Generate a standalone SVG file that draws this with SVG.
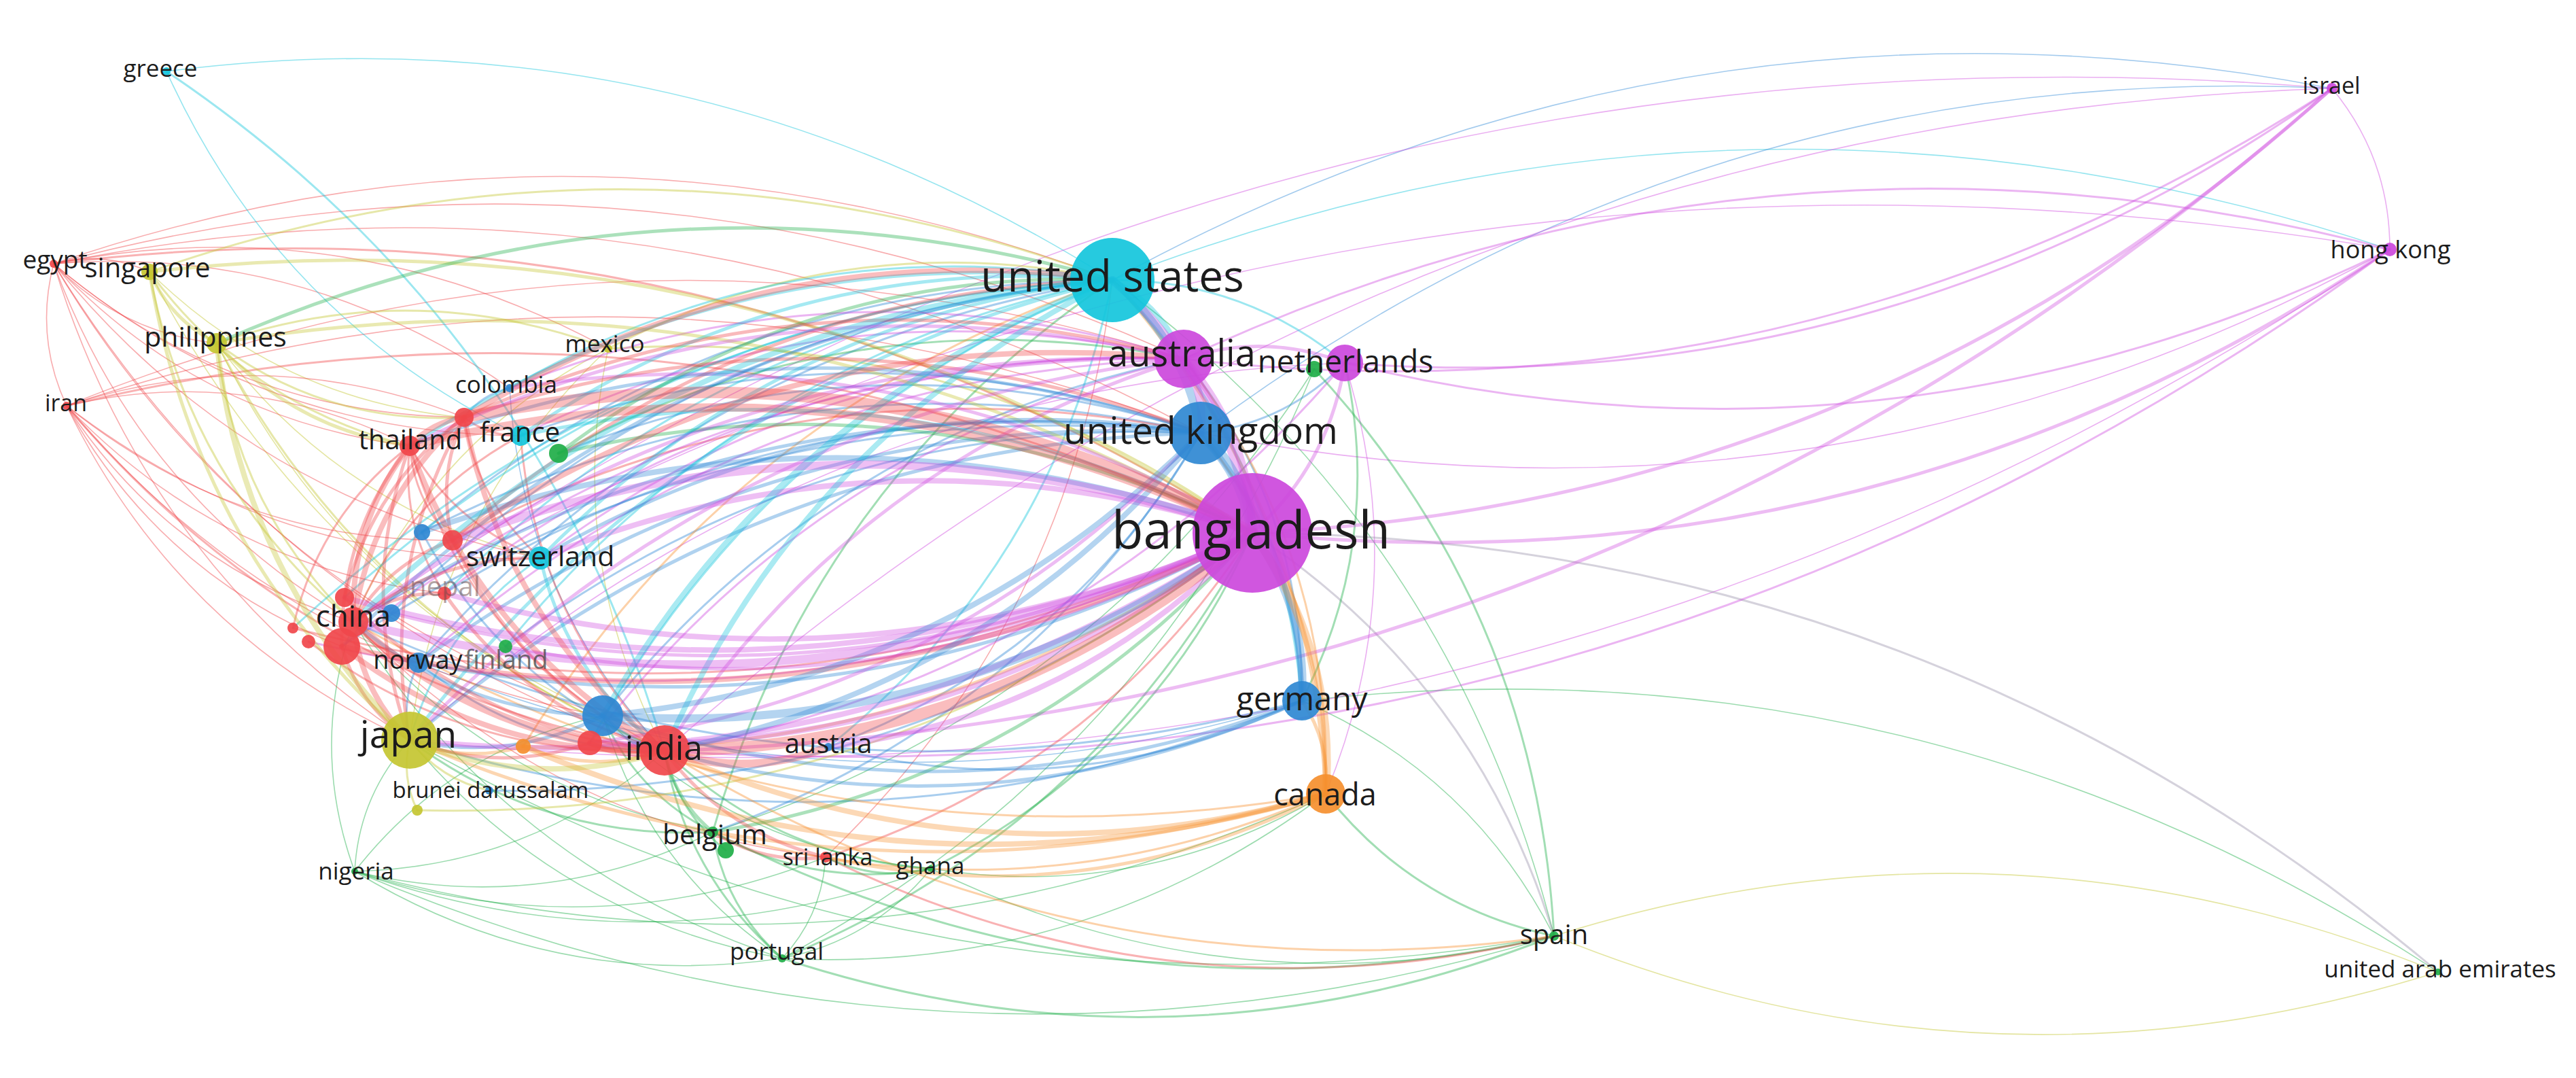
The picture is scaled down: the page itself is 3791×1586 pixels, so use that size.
<svg xmlns="http://www.w3.org/2000/svg" width="3791" height="1586" viewBox="0 0 3791 1586">
<style>
.e path{fill:none;vector-effect:non-scaling-stroke;stroke-linecap:round}
.r{stroke:#f0474b}.m{stroke:#d04ee0}.b{stroke:#3089d6}.c{stroke:#13c6dc}.g{stroke:#22b04c}.y{stroke:#c4c531}.o{stroke:#f79232}.p{stroke:#9a94ac}
.w1{stroke-width:1.6;stroke-opacity:.45}.w2{stroke-width:3;stroke-opacity:.42}.w3{stroke-width:5;stroke-opacity:.38}.w4{stroke-width:8;stroke-opacity:.36}.w5{stroke-width:12;stroke-opacity:.36}.w6{stroke-width:17;stroke-opacity:.36}
.n circle{fill-opacity:.92}
.fr{fill:#f0474b}.fm{fill:#cc48dc}.fb{fill:#2f88d2}.fc{fill:#13c6dc}.fg{fill:#1fae48}.fy{fill:#c4c531}.fo{fill:#f58f2e}
.n text{font-family:"Open Sans","Liberation Sans",sans-serif;fill:#1c1c1c;text-anchor:middle}
</style>
<rect width="3791" height="1586" fill="#ffffff"/>
<g id="connectors" class="e">
<path class="c w1" transform="matrix(-1392,-307,307,-1392,1637,412)" d="M0 0Q.5 .18 1 0"/>
<path class="r w1" transform="matrix(-1558,-24,24,-1558,1637,412)" d="M0 0Q.5 .18 1 0"/>
<path class="b w1" transform="matrix(-1795,282,-282,-1795,3432,130)" d="M0 0Q.5 .18 1 0"/>
<path class="c w1" transform="matrix(-1880,45,-45,-1880,3517,367)" d="M0 0Q.5 .18 1 0"/>
<path class="g w1" transform="matrix(-650,-965,965,-650,2287,1377)" d="M0 0Q.5 .18 1 0"/>
<path class="r w1" transform="matrix(422,-849,849,422,1215,1261)" d="M0 0Q.5 .18 1 0"/>
<path class="m w1" transform="matrix(1750,-270,270,1750,1767,637)" d="M0 0Q.5 .18 1 0"/>
<path class="b w1" transform="matrix(-1665,507,-507,-1665,3432,130)" d="M0 0Q.5 .18 1 0"/>
<path class="r w1" transform="matrix(-1688,-249,249,-1688,1767,637)" d="M0 0Q.5 .18 1 0"/>
<path class="r w1" transform="matrix(-1669,-40,40,-1669,1767,637)" d="M0 0Q.5 .18 1 0"/>
<path class="r w1" transform="matrix(-1663,-140,140,-1663,1742,528)" d="M0 0Q.5 .18 1 0"/>
<path class="r w1" transform="matrix(-1644,69,-69,-1644,1742,528)" d="M0 0Q.5 .18 1 0"/>
<path class="m w1" transform="matrix(28,-634,634,28,1951,1168)" d="M0 0Q.5 .18 1 0"/>
<path class="m w1" transform="matrix(-1376,555,-555,-1376,1979,534)" d="M0 0Q.5 .18 1 0"/>
<path class="g w1" transform="matrix(885,-681,681,885,1049,1224)" d="M0 0Q.5 .18 1 0"/>
<path class="g w1" transform="matrix(783,-867,867,783,1151,1410)" d="M0 0Q.5 .18 1 0"/>
<path class="g w1" transform="matrix(-371,-346,346,-371,2287,1377)" d="M0 0Q.5 .18 1 0"/>
<path class="b w1" transform="matrix(1300,56,-56,1300,616,975)" d="M0 0Q.5 .18 1 0"/>
<path class="g w1" transform="matrix(581,-110,110,581,1370,1278)" d="M0 0Q.5 .18 1 0"/>
<path class="g w1" transform="matrix(1429,-114,114,1429,522,1282)" d="M0 0Q.5 .18 1 0"/>
<path class="g w1" transform="matrix(800,-242,242,800,1151,1410)" d="M0 0Q.5 .18 1 0"/>
<path class="g w1" transform="matrix(1765,95,-95,1765,522,1282)" d="M0 0Q.5 .18 1 0"/>
<path class="g w1" transform="matrix(917,99,-99,917,1370,1278)" d="M0 0Q.5 .18 1 0"/>
<path class="g w1" transform="matrix(1684,288,-288,1684,603,1089)" d="M0 0Q.5 .18 1 0"/>
<path class="y w1" transform="matrix(1301,53,-53,1301,2287,1377)" d="M0 0Q.5 .18 1 0"/>
<path class="y w1" transform="matrix(-1301,-53,53,-1301,3588,1430)" d="M0 0Q.5 .18 1 0"/>
<path class="g w1" transform="matrix(-1672,-399,399,-1672,3588,1430)" d="M0 0Q.5 .18 1 0"/>
<path class="y w1" transform="matrix(83,592,-592,83,895,513)" d="M0 0Q.5 .18 1 0"/>
<path class="b w1" transform="matrix(228,534,-534,228,750,571)" d="M0 0Q.5 .18 1 0"/>
<path class="y w1" transform="matrix(758,705,-705,758,220,400)" d="M0 0Q.5 .18 1 0"/>
<path class="r w1" transform="matrix(899,717,-717,899,79,388)" d="M0 0Q.5 .18 1 0"/>
<path class="m w1" transform="matrix(-2912,785,-785,-2912,3432,130)" d="M0 0Q.5 .18 1 0"/>
<path class="m w1" transform="matrix(-2454,975,-975,-2454,3432,130)" d="M0 0Q.5 .18 1 0"/>
<path class="m w1" transform="matrix(-2997,548,-548,-2997,3517,367)" d="M0 0Q.5 .18 1 0"/>
<path class="m w1" transform="matrix(-85,-237,237,-85,3517,367)" d="M0 0Q.5 .18 1 0"/>
<path class="m w1" transform="matrix(2914,-722,722,2914,603,1089)" d="M0 0Q.5 .18 1 0"/>
<path class="g w1" transform="matrix(-81,193,-193,-81,603,1089)" d="M0 0Q.5 .18 1 0"/>
<path class="g w1" transform="matrix(548,321,-321,548,603,1089)" d="M0 0Q.5 .18 1 0"/>
<path class="r w1" transform="matrix(524,701,-701,524,79,388)" d="M0 0Q.5 .18 1 0"/>
<path class="r w1" transform="matrix(505,492,-492,505,98,597)" d="M0 0Q.5 .18 1 0"/>
<path class="y w1" transform="matrix(-292,576,-576,-292,895,513)" d="M0 0Q.5 .18 1 0"/>
<path class="y w1" transform="matrix(568,548,-548,568,319,505)" d="M0 0Q.5 .18 1 0"/>
<path class="y w1" transform="matrix(476,316,-316,476,319,505)" d="M0 0Q.5 .18 1 0"/>
<path class="r w1" transform="matrix(-141,-12,12,-141,220,400)" d="M0 0Q.5 .18 1 0"/>
<path class="y w1" transform="matrix(463,214,-214,463,220,400)" d="M0 0Q.5 .18 1 0"/>
<path class="r w1" transform="matrix(441,527,-527,441,79,388)" d="M0 0Q.5 .18 1 0"/>
<path class="r w1" transform="matrix(524,268,-268,524,79,388)" d="M0 0Q.5 .18 1 0"/>
<path class="r w1" transform="matrix(19,209,-209,19,79,388)" d="M0 0Q.5 .18 1 0"/>
<path class="r w1" transform="matrix(240,117,-117,240,79,388)" d="M0 0Q.5 .18 1 0"/>
<path class="r w1" transform="matrix(604,226,-226,604,79,388)" d="M0 0Q.5 .18 1 0"/>
<path class="r w1" transform="matrix(716,433,-433,716,79,388)" d="M0 0Q.5 .18 1 0"/>
<path class="r w1" transform="matrix(-816,-125,125,-816,895,513)" d="M0 0Q.5 .18 1 0"/>
<path class="r w1" transform="matrix(808,665,-665,808,79,388)" d="M0 0Q.5 .18 1 0"/>
<path class="r w1" transform="matrix(687,253,-253,687,79,388)" d="M0 0Q.5 .18 1 0"/>
<path class="r w1" transform="matrix(-671,-183,183,-671,750,571)" d="M0 0Q.5 .18 1 0"/>
<path class="r w1" transform="matrix(422,318,-318,422,98,597)" d="M0 0Q.5 .18 1 0"/>
<path class="r w1" transform="matrix(-505,-59,59,-505,603,656)" d="M0 0Q.5 .18 1 0"/>
<path class="r w1" transform="matrix(-585,-17,17,-585,683,614)" d="M0 0Q.5 .18 1 0"/>
<path class="r w1" transform="matrix(405,354,-354,405,98,597)" d="M0 0Q.5 .18 1 0"/>
<path class="r w1" transform="matrix(556,276,-276,556,98,597)" d="M0 0Q.5 .18 1 0"/>
<path class="r w1" transform="matrix(789,456,-456,789,98,597)" d="M0 0Q.5 .18 1 0"/>
<path class="r w1" transform="matrix(697,224,-224,697,98,597)" d="M0 0Q.5 .18 1 0"/>
<path class="r w1" transform="matrix(568,198,-198,568,98,597)" d="M0 0Q.5 .18 1 0"/>
<path class="c w1" transform="matrix(521,536,-536,521,245,105)" d="M0 0Q.5 .18 1 0"/>
<path class="y w1" transform="matrix(-375,402,-402,-375,895,513)" d="M0 0Q.5 .18 1 0"/>
<path class="g w1" transform="matrix(456,-177,177,456,522,1282)" d="M0 0Q.5 .18 1 0"/>
<path class="g w1" transform="matrix(527,-58,58,527,522,1282)" d="M0 0Q.5 .18 1 0"/>
<path class="g w1" transform="matrix(629,128,-128,629,522,1282)" d="M0 0Q.5 .18 1 0"/>
<path class="g w1" transform="matrix(2,367,-367,2,520,915)" d="M0 0Q.5 .18 1 0"/>
<path class="g w1" transform="matrix(693,-21,21,693,522,1282)" d="M0 0Q.5 .18 1 0"/>
<path class="g w1" transform="matrix(848,-4,4,848,522,1282)" d="M0 0Q.5 .18 1 0"/>
<path class="g w1" transform="matrix(-365,229,-229,-365,887,1053)" d="M0 0Q.5 .18 1 0"/>
<path class="g w1" transform="matrix(64,-149,149,64,1151,1410)" d="M0 0Q.5 .18 1 0"/>
<path class="g w1" transform="matrix(219,-132,132,219,1151,1410)" d="M0 0Q.5 .18 1 0"/>
<path class="g w1" transform="matrix(631,495,-495,631,520,915)" d="M0 0Q.5 .18 1 0"/>
<path class="g w1" transform="matrix(264,357,-357,264,887,1053)" d="M0 0Q.5 .18 1 0"/>
<path class="g w1" transform="matrix(529,309,-309,529,520,915)" d="M0 0Q.5 .18 1 0"/>
<path class="g w1" transform="matrix(483,225,-225,483,887,1053)" d="M0 0Q.5 .18 1 0"/>
<path class="r w1" transform="matrix(695,346,-346,695,520,915)" d="M0 0Q.5 .18 1 0"/>
<path class="p w2" transform="matrix(-444,-593,593,-444,2287,1377)" d="M0 0Q.5 .18 1 0"/>
<path class="p w2" transform="matrix(-1745,-646,646,-1745,3588,1430)" d="M0 0Q.5 .18 1 0"/>
<path class="r w2" transform="matrix(628,-477,477,628,1215,1261)" d="M0 0Q.5 .18 1 0"/>
<path class="y w2" transform="matrix(-948,-271,271,-948,1843,784)" d="M0 0Q.5 .18 1 0"/>
<path class="r w2" transform="matrix(-1764,-396,396,-1764,1843,784)" d="M0 0Q.5 .18 1 0"/>
<path class="r w2" transform="matrix(-1745,-187,187,-1745,1843,784)" d="M0 0Q.5 .18 1 0"/>
<path class="g w2" transform="matrix(473,-494,494,473,1370,1278)" d="M0 0Q.5 .18 1 0"/>
<path class="g w2" transform="matrix(692,-626,626,692,1151,1410)" d="M0 0Q.5 .18 1 0"/>
<path class="b w2" transform="matrix(1123,-379,379,1123,720,1163)" d="M0 0Q.5 .18 1 0"/>
<path class="c w2" transform="matrix(-342,-122,122,-342,1979,534)" d="M0 0Q.5 .18 1 0"/>
<path class="b w2" transform="matrix(-1021,563,-563,-1021,1637,412)" d="M0 0Q.5 .18 1 0"/>
<path class="y w2" transform="matrix(-1417,-12,12,-1417,1637,412)" d="M0 0Q.5 .18 1 0"/>
<path class="y w2" transform="matrix(-742,101,-101,-742,1637,412)" d="M0 0Q.5 .18 1 0"/>
<path class="c w2" transform="matrix(-887,159,-159,-887,1637,412)" d="M0 0Q.5 .18 1 0"/>
<path class="b w2" transform="matrix(-1016,371,-371,-1016,1637,412)" d="M0 0Q.5 .18 1 0"/>
<path class="g w2" transform="matrix(-588,812,-812,-588,1637,412)" d="M0 0Q.5 .18 1 0"/>
<path class="c w2" transform="matrix(418,-687,687,418,1219,1099)" d="M0 0Q.5 .18 1 0"/>
<path class="b w2" transform="matrix(212,-103,103,212,1767,637)" d="M0 0Q.5 .18 1 0"/>
<path class="o w2" transform="matrix(-184,-531,531,-184,1951,1168)" d="M0 0Q.5 .18 1 0"/>
<path class="b w2" transform="matrix(-1001,4,-4,-1001,1767,637)" d="M0 0Q.5 .18 1 0"/>
<path class="b w2" transform="matrix(718,-587,587,718,1049,1224)" d="M0 0Q.5 .18 1 0"/>
<path class="b w2" transform="matrix(-1146,146,-146,-1146,1767,637)" d="M0 0Q.5 .18 1 0"/>
<path class="b w2" transform="matrix(-174,-503,503,-174,1916,1031)" d="M0 0Q.5 .18 1 0"/>
<path class="o w2" transform="matrix(-209,-640,640,-209,1951,1168)" d="M0 0Q.5 .18 1 0"/>
<path class="m w2" transform="matrix(-1775,161,-161,-1775,3517,367)" d="M0 0Q.5 .18 1 0"/>
<path class="m w2" transform="matrix(1690,-398,398,1690,1742,528)" d="M0 0Q.5 .18 1 0"/>
<path class="m w2" transform="matrix(-947,293,-293,-947,1742,528)" d="M0 0Q.5 .18 1 0"/>
<path class="b w2" transform="matrix(-855,525,-525,-855,1742,528)" d="M0 0Q.5 .18 1 0"/>
<path class="m w2" transform="matrix(1538,-167,167,1538,1979,534)" d="M0 0Q.5 .18 1 0"/>
<path class="m w2" transform="matrix(1453,-404,404,1453,1979,534)" d="M0 0Q.5 .18 1 0"/>
<path class="m w2" transform="matrix(2539,-738,738,2539,978,1105)" d="M0 0Q.5 .18 1 0"/>
<path class="g w2" transform="matrix(63,-497,497,63,1916,1031)" d="M0 0Q.5 .18 1 0"/>
<path class="m w2" transform="matrix(1001,-571,571,1001,978,1105)" d="M0 0Q.5 .18 1 0"/>
<path class="g w2" transform="matrix(-353,-834,834,-353,2287,1377)" d="M0 0Q.5 .18 1 0"/>
<path class="b w2" transform="matrix(1313,-58,58,1313,603,1089)" d="M0 0Q.5 .18 1 0"/>
<path class="b w2" transform="matrix(1396,116,-116,1396,520,915)" d="M0 0Q.5 .18 1 0"/>
<path class="b w2" transform="matrix(697,-68,68,697,1219,1099)" d="M0 0Q.5 .18 1 0"/>
<path class="o w2" transform="matrix(1431,253,-253,1431,520,915)" d="M0 0Q.5 .18 1 0"/>
<path class="g w2" transform="matrix(336,209,-209,336,1951,1168)" d="M0 0Q.5 .18 1 0"/>
<path class="o w2" transform="matrix(902,-56,56,902,1049,1224)" d="M0 0Q.5 .18 1 0"/>
<path class="g w2" transform="matrix(1136,-33,33,1136,1151,1410)" d="M0 0Q.5 .18 1 0"/>
<path class="g w2" transform="matrix(1238,153,-153,1238,1049,1224)" d="M0 0Q.5 .18 1 0"/>
<path class="o w2" transform="matrix(1309,272,-272,1309,978,1105)" d="M0 0Q.5 .18 1 0"/>
<path class="r w2" transform="matrix(1072,116,-116,1072,1215,1261)" d="M0 0Q.5 .18 1 0"/>
<path class="r w2" transform="matrix(-246,274,-274,-246,766,641)" d="M0 0Q.5 .18 1 0"/>
<path class="r w2" transform="matrix(96,60,-60,96,520,915)" d="M0 0Q.5 .18 1 0"/>
<path class="r w2" transform="matrix(-172,268,-268,-172,603,656)" d="M0 0Q.5 .18 1 0"/>
<path class="r w2" transform="matrix(524,161,-161,524,454,944)" d="M0 0Q.5 .18 1 0"/>
<path class="y w2" transform="matrix(383,256,-256,383,220,400)" d="M0 0Q.5 .18 1 0"/>
<path class="r w2" transform="matrix(63,139,-139,63,603,656)" d="M0 0Q.5 .18 1 0"/>
<path class="r w2" transform="matrix(51,217,-217,51,603,656)" d="M0 0Q.5 .18 1 0"/>
<path class="r w2" transform="matrix(192,165,-165,192,603,656)" d="M0 0Q.5 .18 1 0"/>
<path class="r w2" transform="matrix(284,397,-397,284,603,656)" d="M0 0Q.5 .18 1 0"/>
<path class="r w2" transform="matrix(83,27,-27,83,683,614)" d="M0 0Q.5 .18 1 0"/>
<path class="r w2" transform="matrix(112,207,-207,112,683,614)" d="M0 0Q.5 .18 1 0"/>
<path class="r w2" transform="matrix(212,464,-464,212,766,641)" d="M0 0Q.5 .18 1 0"/>
<path class="g w2" transform="matrix(173,305,-305,173,978,1105)" d="M0 0Q.5 .18 1 0"/>
<path class="g w2" transform="matrix(392,173,-173,392,978,1105)" d="M0 0Q.5 .18 1 0"/>
<path class="b w2" transform="matrix(362,130,-130,362,616,975)" d="M0 0Q.5 .18 1 0"/>
<path class="b w2" transform="matrix(357,322,-322,357,621,783)" d="M0 0Q.5 .18 1 0"/>
<path class="y w2" transform="matrix(659,600,-600,659,319,505)" d="M0 0Q.5 .18 1 0"/>
<path class="r w2" transform="matrix(880,508,-508,880,98,597)" d="M0 0Q.5 .18 1 0"/>
<path class="c w2" transform="matrix(-733,-1000,1000,-733,978,1105)" d="M0 0Q.5 .18 1 0"/>
<path class="y w2" transform="matrix(117,74,-74,117,603,1089)" d="M0 0Q.5 .18 1 0"/>
<path class="y w2" transform="matrix(11,103,-103,11,603,1089)" d="M0 0Q.5 .18 1 0"/>
<path class="g w2" transform="matrix(446,135,-135,446,603,1089)" d="M0 0Q.5 .18 1 0"/>
<path class="b w2" transform="matrix(-13,114,-114,-13,616,975)" d="M0 0Q.5 .18 1 0"/>
<path class="c w2" transform="matrix(-192,268,-268,-192,795,821)" d="M0 0Q.5 .18 1 0"/>
<path class="y w2" transform="matrix(-576,-8,8,-576,895,513)" d="M0 0Q.5 .18 1 0"/>
<path class="y w2" transform="matrix(201,410,-410,201,319,505)" d="M0 0Q.5 .18 1 0"/>
<path class="y w2" transform="matrix(364,109,-109,364,319,505)" d="M0 0Q.5 .18 1 0"/>
<path class="y w2" transform="matrix(300,515,-515,300,220,400)" d="M0 0Q.5 .18 1 0"/>
<path class="b w2" transform="matrix(-67,43,-43,-67,750,571)" d="M0 0Q.5 .18 1 0"/>
<path class="g w2" transform="matrix(102,186,-186,102,1049,1224)" d="M0 0Q.5 .18 1 0"/>
<path class="g w2" transform="matrix(321,54,-54,321,1049,1224)" d="M0 0Q.5 .18 1 0"/>
<path class="g w2" transform="matrix(162,171,-171,162,887,1053)" d="M0 0Q.5 .18 1 0"/>
<path class="g w2" transform="matrix(90,146,-146,90,978,1105)" d="M0 0Q.5 .18 1 0"/>
<path class="g w2" transform="matrix(155,17,-17,155,1215,1261)" d="M0 0Q.5 .18 1 0"/>
<path class="r w2" transform="matrix(-1101,158,-158,-1101,1767,637)" d="M0 0Q.5 .18 1 0"/>
<path class="m w2" transform="matrix(-1088,345,-345,-1088,1742,528)" d="M0 0Q.5 .18 1 0"/>
<path class="c w2" transform="matrix(-983,461,-461,-983,1637,412)" d="M0 0Q.5 .18 1 0"/>
<path class="b w2" transform="matrix(-1113,236,-236,-1113,1767,637)" d="M0 0Q.5 .18 1 0"/>
<path class="m w2" transform="matrix(-976,113,-113,-976,1742,528)" d="M0 0Q.5 .18 1 0"/>
<path class="g w2" transform="matrix(-920,139,-139,-920,1742,528)" d="M0 0Q.5 .18 1 0"/>
<path class="b w2" transform="matrix(-945,30,-30,-945,1767,637)" d="M0 0Q.5 .18 1 0"/>
<path class="m w2" transform="matrix(-1126,447,-447,-1126,1742,528)" d="M0 0Q.5 .18 1 0"/>
<path class="c w2" transform="matrix(-893,539,-539,-893,1637,412)" d="M0 0Q.5 .18 1 0"/>
<path class="b w2" transform="matrix(-1023,314,-314,-1023,1767,637)" d="M0 0Q.5 .18 1 0"/>
<path class="m w2" transform="matrix(-874,565,-565,-874,1742,528)" d="M0 0Q.5 .18 1 0"/>
<path class="c w2" transform="matrix(-769,681,-681,-769,1637,412)" d="M0 0Q.5 .18 1 0"/>
<path class="b w2" transform="matrix(548,-462,462,548,1219,1099)" d="M0 0Q.5 .18 1 0"/>
<path class="o w2" transform="matrix(-867,686,-686,-867,1637,412)" d="M0 0Q.5 .18 1 0"/>
<path class="r w2" transform="matrix(1412,-140,140,1412,431,924)" d="M0 0Q.5 .18 1 0"/>
<path class="m w2" transform="matrix(1389,-160,160,1389,454,944)" d="M0 0Q.5 .18 1 0"/>
<path class="y w2" transform="matrix(1229,-408,408,1229,614,1192)" d="M0 0Q.5 .18 1 0"/>
<path class="c w2" transform="matrix(-1130,467,-467,-1130,1637,412)" d="M0 0Q.5 .18 1 0"/>
<path class="b w2" transform="matrix(-1264,314,-314,-1264,1767,637)" d="M0 0Q.5 .18 1 0"/>
<path class="m w2" transform="matrix(-1239,423,-423,-1239,1742,528)" d="M0 0Q.5 .18 1 0"/>
<path class="b w2" transform="matrix(-1061,490,-490,-1061,1637,412)" d="M0 0Q.5 .18 1 0"/>
<path class="m w2" transform="matrix(-992,43,-43,-992,1742,528)" d="M0 0Q.5 .18 1 0"/>
<path class="c w2" transform="matrix(-1206,512,-512,-1206,1637,412)" d="M0 0Q.5 .18 1 0"/>
<path class="m w3" transform="matrix(1589,-654,654,1589,1843,784)" d="M0 0Q.5 .18 1 0"/>
<path class="m w3" transform="matrix(2454,-975,975,2454,978,1105)" d="M0 0Q.5 .18 1 0"/>
<path class="m w3" transform="matrix(136,-250,250,136,1843,784)" d="M0 0Q.5 .18 1 0"/>
<path class="m w3" transform="matrix(1674,-417,417,1674,1843,784)" d="M0 0Q.5 .18 1 0"/>
<path class="c w3" transform="matrix(-1077,-143,143,-1077,1843,784)" d="M0 0Q.5 .18 1 0"/>
<path class="b w3" transform="matrix(1227,-191,191,1227,616,975)" d="M0 0Q.5 .18 1 0"/>
<path class="g w3" transform="matrix(794,-440,440,794,1049,1224)" d="M0 0Q.5 .18 1 0"/>
<path class="y w3" transform="matrix(-1623,-384,384,-1623,1843,784)" d="M0 0Q.5 .18 1 0"/>
<path class="y w3" transform="matrix(-1524,-279,279,-1524,1843,784)" d="M0 0Q.5 .18 1 0"/>
<path class="m w3" transform="matrix(-1093,-213,213,-1093,1843,784)" d="M0 0Q.5 .18 1 0"/>
<path class="g w3" transform="matrix(-1021,-117,117,-1021,1843,784)" d="M0 0Q.5 .18 1 0"/>
<path class="m w3" transform="matrix(1267,-118,118,1267,576,902)" d="M0 0Q.5 .18 1 0"/>
<path class="o w3" transform="matrix(1073,-314,314,1073,770,1098)" d="M0 0Q.5 .18 1 0"/>
<path class="m w3" transform="matrix(1099,-167,167,1099,744,951)" d="M0 0Q.5 .18 1 0"/>
<path class="c w3" transform="matrix(-279,-619,619,-279,1916,1031)" d="M0 0Q.5 .18 1 0"/>
<path class="o w3" transform="matrix(-314,-756,756,-314,1951,1168)" d="M0 0Q.5 .18 1 0"/>
<path class="c w3" transform="matrix(-1034,677,-677,-1034,1637,412)" d="M0 0Q.5 .18 1 0"/>
<path class="b w3" transform="matrix(-1134,539,-539,-1134,1637,412)" d="M0 0Q.5 .18 1 0"/>
<path class="c w3" transform="matrix(-1034,244,-244,-1034,1637,412)" d="M0 0Q.5 .18 1 0"/>
<path class="c w3" transform="matrix(-871,229,-229,-871,1637,412)" d="M0 0Q.5 .18 1 0"/>
<path class="c w3" transform="matrix(-842,409,-409,-842,1637,412)" d="M0 0Q.5 .18 1 0"/>
<path class="g w3" transform="matrix(-1318,93,-93,-1318,1637,412)" d="M0 0Q.5 .18 1 0"/>
<path class="r w3" transform="matrix(-971,383,-383,-971,1637,412)" d="M0 0Q.5 .18 1 0"/>
<path class="g w3" transform="matrix(-815,255,-255,-815,1637,412)" d="M0 0Q.5 .18 1 0"/>
<path class="b w3" transform="matrix(-1164,452,-452,-1164,1767,637)" d="M0 0Q.5 .18 1 0"/>
<path class="b w3" transform="matrix(-1247,278,-278,-1247,1767,637)" d="M0 0Q.5 .18 1 0"/>
<path class="b w3" transform="matrix(-1164,19,-19,-1164,1767,637)" d="M0 0Q.5 .18 1 0"/>
<path class="b w3" transform="matrix(-972,184,-184,-972,1767,637)" d="M0 0Q.5 .18 1 0"/>
<path class="b w3" transform="matrix(-1151,338,-338,-1151,1767,637)" d="M0 0Q.5 .18 1 0"/>
<path class="r w3" transform="matrix(-1084,-23,23,-1084,1767,637)" d="M0 0Q.5 .18 1 0"/>
<path class="m w3" transform="matrix(-237,-6,6,-237,1979,534)" d="M0 0Q.5 .18 1 0"/>
<path class="m w3" transform="matrix(-764,577,-577,-764,1742,528)" d="M0 0Q.5 .18 1 0"/>
<path class="m w3" transform="matrix(-1139,561,-561,-1139,1742,528)" d="M0 0Q.5 .18 1 0"/>
<path class="m w3" transform="matrix(-1222,387,-387,-1222,1742,528)" d="M0 0Q.5 .18 1 0"/>
<path class="m w3" transform="matrix(-1139,128,-128,-1139,1742,528)" d="M0 0Q.5 .18 1 0"/>
<path class="r w3" transform="matrix(-1059,86,-86,-1059,1742,528)" d="M0 0Q.5 .18 1 0"/>
<path class="o w3" transform="matrix(-35,-137,137,-35,1951,1168)" d="M0 0Q.5 .18 1 0"/>
<path class="b w3" transform="matrix(938,-74,74,938,978,1105)" d="M0 0Q.5 .18 1 0"/>
<path class="b w3" transform="matrix(1029,-22,22,1029,887,1053)" d="M0 0Q.5 .18 1 0"/>
<path class="o w3" transform="matrix(1348,79,-79,1348,603,1089)" d="M0 0Q.5 .18 1 0"/>
<path class="o w3" transform="matrix(736,-93,93,736,1215,1261)" d="M0 0Q.5 .18 1 0"/>
<path class="r w3" transform="matrix(-146,120,-120,-146,666,795)" d="M0 0Q.5 .18 1 0"/>
<path class="r w3" transform="matrix(-134,42,-42,-134,654,873)" d="M0 0Q.5 .18 1 0"/>
<path class="r w3" transform="matrix(-275,94,-94,-275,795,821)" d="M0 0Q.5 .18 1 0"/>
<path class="b w3" transform="matrix(367,138,-138,367,520,915)" d="M0 0Q.5 .18 1 0"/>
<path class="r w3" transform="matrix(100,138,-138,100,503,951)" d="M0 0Q.5 .18 1 0"/>
<path class="r w3" transform="matrix(-100,295,-295,-100,603,656)" d="M0 0Q.5 .18 1 0"/>
<path class="r w3" transform="matrix(471,226,-226,471,507,879)" d="M0 0Q.5 .18 1 0"/>
<path class="r w3" transform="matrix(-176,265,-265,-176,683,614)" d="M0 0Q.5 .18 1 0"/>
<path class="r w3" transform="matrix(0,433,-433,0,603,656)" d="M0 0Q.5 .18 1 0"/>
<path class="y w3" transform="matrix(284,151,-151,284,319,505)" d="M0 0Q.5 .18 1 0"/>
<path class="r w3" transform="matrix(-80,475,-475,-80,683,614)" d="M0 0Q.5 .18 1 0"/>
<path class="r w3" transform="matrix(-17,181,-181,-17,683,614)" d="M0 0Q.5 .18 1 0"/>
<path class="o w3" transform="matrix(208,7,-7,208,770,1098)" d="M0 0Q.5 .18 1 0"/>
<path class="r w3" transform="matrix(237,156,-156,237,978,1105)" d="M0 0Q.5 .18 1 0"/>
<path class="g w3" transform="matrix(71,119,-119,71,978,1105)" d="M0 0Q.5 .18 1 0"/>
<path class="r w3" transform="matrix(324,232,-232,324,654,873)" d="M0 0Q.5 .18 1 0"/>
<path class="c w3" transform="matrix(183,284,-284,183,795,821)" d="M0 0Q.5 .18 1 0"/>
<path class="r w3" transform="matrix(312,310,-310,312,666,795)" d="M0 0Q.5 .18 1 0"/>
<path class="y w3" transform="matrix(383,689,-689,383,220,400)" d="M0 0Q.5 .18 1 0"/>
<path class="b w3" transform="matrix(284,-36,36,284,603,1089)" d="M0 0Q.5 .18 1 0"/>
<path class="r w3" transform="matrix(265,4,-4,265,603,1089)" d="M0 0Q.5 .18 1 0"/>
<path class="o w3" transform="matrix(167,9,-9,167,603,1089)" d="M0 0Q.5 .18 1 0"/>
<path class="y w3" transform="matrix(99,105,-105,99,220,400)" d="M0 0Q.5 .18 1 0"/>
<path class="r w3" transform="matrix(166,37,-37,166,1049,1224)" d="M0 0Q.5 .18 1 0"/>
<path class="m w3" transform="matrix(899,-456,456,899,868,1093)" d="M0 0Q.5 .18 1 0"/>
<path class="m w4" transform="matrix(1240,-305,305,1240,603,1089)" d="M0 0Q.5 .18 1 0"/>
<path class="r w4" transform="matrix(1340,-167,167,1340,503,951)" d="M0 0Q.5 .18 1 0"/>
<path class="m w4" transform="matrix(-1048,37,-37,-1048,1843,784)" d="M0 0Q.5 .18 1 0"/>
<path class="m w4" transform="matrix(975,-309,309,975,868,1093)" d="M0 0Q.5 .18 1 0"/>
<path class="m w4" transform="matrix(624,-315,315,624,1219,1099)" d="M0 0Q.5 .18 1 0"/>
<path class="b w4" transform="matrix(-1222,-1,1,-1222,1843,784)" d="M0 0Q.5 .18 1 0"/>
<path class="m w4" transform="matrix(1189,-89,89,1189,654,873)" d="M0 0Q.5 .18 1 0"/>
<path class="m w4" transform="matrix(1336,-95,95,1336,507,879)" d="M0 0Q.5 .18 1 0"/>
<path class="c w4" transform="matrix(-105,-116,116,-105,1742,528)" d="M0 0Q.5 .18 1 0"/>
<path class="c w4" transform="matrix(-659,693,-693,-659,1637,412)" d="M0 0Q.5 .18 1 0"/>
<path class="c w4" transform="matrix(-1117,503,-503,-1117,1637,412)" d="M0 0Q.5 .18 1 0"/>
<path class="r w4" transform="matrix(-954,202,-202,-954,1637,412)" d="M0 0Q.5 .18 1 0"/>
<path class="c w4" transform="matrix(-750,641,-641,-750,1637,412)" d="M0 0Q.5 .18 1 0"/>
<path class="b w4" transform="matrix(-149,-394,394,-149,1916,1031)" d="M0 0Q.5 .18 1 0"/>
<path class="b w4" transform="matrix(789,-468,468,789,978,1105)" d="M0 0Q.5 .18 1 0"/>
<path class="b w4" transform="matrix(880,-416,416,880,887,1053)" d="M0 0Q.5 .18 1 0"/>
<path class="o w4" transform="matrix(973,63,-63,973,978,1105)" d="M0 0Q.5 .18 1 0"/>
<path class="o w4" transform="matrix(1181,70,-70,1181,770,1098)" d="M0 0Q.5 .18 1 0"/>
<path class="r w4" transform="matrix(-83,259,-259,-83,603,656)" d="M0 0Q.5 .18 1 0"/>
<path class="r w4" transform="matrix(83,174,-174,83,520,915)" d="M0 0Q.5 .18 1 0"/>
<path class="r w4" transform="matrix(-163,301,-301,-163,683,614)" d="M0 0Q.5 .18 1 0"/>
<path class="r w4" transform="matrix(475,154,-154,475,503,951)" d="M0 0Q.5 .18 1 0"/>
<path class="r w4" transform="matrix(-80,42,-42,-80,683,614)" d="M0 0Q.5 .18 1 0"/>
<path class="r w4" transform="matrix(375,449,-449,375,603,656)" d="M0 0Q.5 .18 1 0"/>
<path class="r w4" transform="matrix(295,491,-491,295,683,614)" d="M0 0Q.5 .18 1 0"/>
<path class="y w4" transform="matrix(375,16,-16,375,603,1089)" d="M0 0Q.5 .18 1 0"/>
<path class="b w4" transform="matrix(91,52,-52,91,887,1053)" d="M0 0Q.5 .18 1 0"/>
<path class="r w4" transform="matrix(110,12,-12,110,868,1093)" d="M0 0Q.5 .18 1 0"/>
<path class="y w4" transform="matrix(284,584,-584,284,319,505)" d="M0 0Q.5 .18 1 0"/>
<path class="r w4" transform="matrix(-1076,267,-267,-1076,1742,528)" d="M0 0Q.5 .18 1 0"/>
<path class="m w5" transform="matrix(-206,-372,372,-206,1843,784)" d="M0 0Q.5 .18 1 0"/>
<path class="m w5" transform="matrix(-101,-256,256,-101,1843,784)" d="M0 0Q.5 .18 1 0"/>
<path class="b w5" transform="matrix(-73,-247,247,-73,1916,1031)" d="M0 0Q.5 .18 1 0"/>
<path class="o w5" transform="matrix(-108,-384,384,-108,1951,1168)" d="M0 0Q.5 .18 1 0"/>
<path class="m w5" transform="matrix(1323,-131,131,1323,520,915)" d="M0 0Q.5 .18 1 0"/>
<path class="r w5" transform="matrix(-1240,-128,128,-1240,1843,784)" d="M0 0Q.5 .18 1 0"/>
<path class="b w5" transform="matrix(956,-269,269,956,887,1053)" d="M0 0Q.5 .18 1 0"/>
<path class="m w5" transform="matrix(-1177,11,-11,-1177,1843,784)" d="M0 0Q.5 .18 1 0"/>
<path class="b w5" transform="matrix(-130,-225,225,-130,1767,637)" d="M0 0Q.5 .18 1 0"/>
<path class="m w5" transform="matrix(-25,-109,109,-25,1767,637)" d="M0 0Q.5 .18 1 0"/>
<path class="r w5" transform="matrix(458,190,-190,458,520,915)" d="M0 0Q.5 .18 1 0"/>
<path class="r w5" transform="matrix(241,-6,6,241,978,1105)" d="M0 0Q.5 .18 1 0"/>
<path class="b w6" transform="matrix(-76,-147,147,-76,1843,784)" d="M0 0Q.5 .18 1 0"/>
<path class="r w6" transform="matrix(865,-321,321,865,978,1105)" d="M0 0Q.5 .18 1 0"/>
<path class="r w6" transform="matrix(-1160,-170,170,-1160,1843,784)" d="M0 0Q.5 .18 1 0"/>
</g>
<g id="nodes" class="n">
<g id="n-u-netherlands-green"><circle class="fg" cx="1934" cy="543" r="12"/></g>
<g id="n-u-red-2"><circle class="fr" cx="503" cy="951" r="27"/></g>
<g id="n-u-red-3"><circle class="fr" cx="507" cy="879" r="14"/></g>
<g id="n-u-red-4"><circle class="fr" cx="431" cy="924" r="8"/></g>
<g id="n-u-red-5"><circle class="fr" cx="454" cy="944" r="10"/></g>
<g id="n-u-blue-1"><circle class="fb" cx="621" cy="783" r="12"/></g>
<g id="n-u-red-1"><circle class="fr" cx="666" cy="795" r="15"/></g>
<g id="n-u-red-6"><circle class="fr" cx="683" cy="614" r="14"/></g>
<g id="n-u-green-1"><circle class="fg" cx="822" cy="667" r="14"/></g>
<g id="n-u-blue-2"><circle class="fb" cx="576" cy="902" r="13"/></g>
<g id="n-u-blue-3"><circle class="fb" cx="887" cy="1053" r="30"/></g>
<g id="n-u-red-7"><circle class="fr" cx="868" cy="1093" r="18"/></g>
<g id="n-u-orange-1"><circle class="fo" cx="770" cy="1098" r="11"/></g>
<g id="n-u-yellow-1"><circle class="fy" cx="614" cy="1192" r="8"/></g>
<g id="n-u-green-2"><circle class="fg" cx="1068" cy="1251" r="12"/></g>
<g id="n-finland"><circle class="fg" cx="744" cy="951" r="10"/><text x="745" y="984" font-size="38" style="fill:#444;opacity:.75">finland</text></g>
<g id="n-bangladesh"><circle class="fm" cx="1843" cy="784" r="88"/><text x="1841" y="807" font-size="76">bangladesh</text></g>
<g id="n-united-states"><circle class="fc" cx="1637" cy="412" r="62"/><text x="1637" y="429" font-size="64">united states</text></g>
<g id="n-united-kingdom"><circle class="fb" cx="1767" cy="637" r="46"/><text x="1767" y="653" font-size="55">united kingdom</text></g>
<g id="n-australia"><circle class="fm" cx="1742" cy="528" r="43"/><text x="1739" y="539" font-size="54">australia</text></g>
<g id="n-netherlands"><circle class="fm" cx="1979" cy="534" r="27"/><text x="1980" y="548" font-size="46">netherlands</text></g>
<g id="n-germany"><circle class="fb" cx="1916" cy="1031" r="29"/><text x="1916" y="1045" font-size="47">germany</text></g>
<g id="n-canada"><circle class="fo" cx="1951" cy="1168" r="29"/><text x="1950" y="1185" font-size="45">canada</text></g>
<g id="n-spain"><circle class="fg" cx="2287" cy="1377" r="7"/><text x="2287" y="1389" font-size="40">spain</text></g>
<g id="n-israel"><circle class="fm" cx="3432" cy="130" r="8"/><text x="3431" y="138" font-size="34">israel</text></g>
<g id="n-hong-kong"><circle class="fm" cx="3517" cy="367" r="10"/><text x="3518" y="380" font-size="36">hong kong</text></g>
<g id="n-united-arab-emirates"><circle class="fg" cx="3588" cy="1430" r="5"/><text x="3591" y="1438" font-size="35">united arab emirates</text></g>
<g id="n-india"><circle class="fr" cx="978" cy="1104" r="37"/><text x="977" y="1118" font-size="50">india</text></g>
<g id="n-japan"><circle class="fy" cx="603" cy="1089" r="42"/><text x="601" y="1100" font-size="55">japan</text></g>
<g id="n-china"><circle class="fr" cx="520" cy="915" r="22"/><text x="520" y="922" font-size="44">china</text></g>
<g id="n-norway"><circle class="fb" cx="616" cy="975" r="15"/><text x="615" y="984" font-size="38">norway</text></g>
<g id="n-nepal"><circle class="fr" cx="654" cy="873" r="10"/><text x="655" y="877" font-size="40" style="fill:#6a4a4a;opacity:.5">nepal</text></g>
<g id="n-switzerland"><circle class="fc" cx="795" cy="821" r="17"/><text x="795" y="833" font-size="41">switzerland</text></g>
<g id="n-thailand"><circle class="fr" cx="603" cy="656" r="15"/><text x="604" y="661" font-size="40">thailand</text></g>
<g id="n-france"><circle class="fc" cx="766" cy="641" r="15"/><text x="765" y="650" font-size="40">france</text></g>
<g id="n-colombia"><circle class="fb" cx="750" cy="571" r="6"/><text x="745" y="578" font-size="35">colombia</text></g>
<g id="n-mexico"><circle class="fy" cx="895" cy="513" r="6"/><text x="890" y="518" font-size="35">mexico</text></g>
<g id="n-greece"><circle class="fc" cx="245" cy="105" r="6"/><text x="236" y="113" font-size="35">greece</text></g>
<g id="n-egypt"><circle class="fr" cx="79" cy="388" r="6"/><text x="81" y="395" font-size="37">egypt</text></g>
<g id="n-singapore"><circle class="fy" cx="220" cy="400" r="12"/><text x="217" y="408" font-size="40">singapore</text></g>
<g id="n-philippines"><circle class="fy" cx="319" cy="505" r="15"/><text x="317" y="510" font-size="41">philippines</text></g>
<g id="n-iran"><circle class="fr" cx="98" cy="597" r="6"/><text x="97" y="605" font-size="34">iran</text></g>
<g id="n-brunei-darussalam"><circle class="fb" cx="720" cy="1163" r="6"/><text x="722" y="1174" font-size="33">brunei darussalam</text></g>
<g id="n-austria"><circle class="fb" cx="1219" cy="1099" r="6"/><text x="1219" y="1108" font-size="40">austria</text></g>
<g id="n-belgium"><circle class="fg" cx="1049" cy="1224" r="8"/><text x="1052" y="1242" font-size="41">belgium</text></g>
<g id="n-sri-lanka"><circle class="fr" cx="1215" cy="1261" r="8"/><text x="1218" y="1273" font-size="34">sri lanka</text></g>
<g id="n-ghana"><circle class="fg" cx="1370" cy="1278" r="5"/><text x="1369" y="1286" font-size="35">ghana</text></g>
<g id="n-nigeria"><circle class="fg" cx="522" cy="1282" r="5"/><text x="524" y="1294" font-size="35">nigeria</text></g>
<g id="n-portugal"><circle class="fg" cx="1151" cy="1410" r="6"/><text x="1143" y="1412" font-size="35">portugal</text></g>
</g>
</svg>
